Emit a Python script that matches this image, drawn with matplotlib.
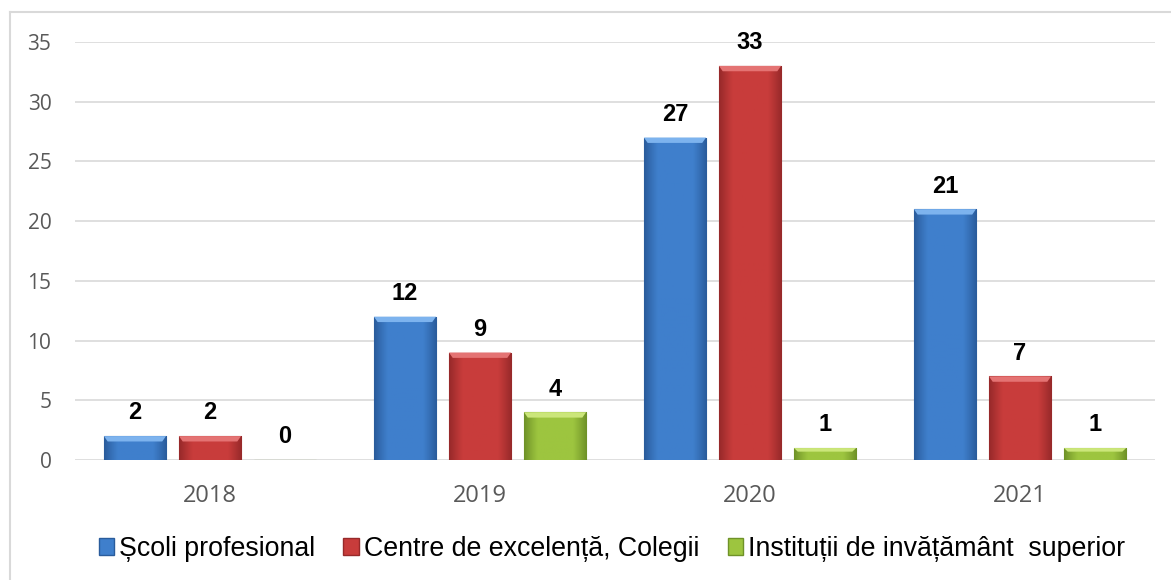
import matplotlib.pyplot as plt
import numpy as np
from matplotlib.colors import to_rgb
from matplotlib.lines import Line2D
from matplotlib.patches import Patch

years = ['2018', '2019', '2020', '2021']
scoli = [2, 12, 27, 21]
centre = [2, 9, 33, 7]
institutii = [0, 4, 1, 1]

series_names = ['Școli profesional', 'Centre de excelență, Colegii',
                'Instituții de invățământ  superior']
colors = ['#3F7FCC', '#C83C3B', '#9DC53F']
darks = ['#2A5C9C', '#97292A', '#6F9228']
lights = ['#7DB3EE', '#E47373', '#CBE67A']

fig = plt.figure(figsize=(11.71, 5.80), dpi=100)
ax = fig.add_axes([75 / 1171, 1 - 460 / 580, 1080 / 1171, 418 / 580])

# light frame (only left and top visible in the original)
fig.add_artist(Line2D([10 / 1171, 10 / 1171], [0, 1 - 12 / 580],
                      transform=fig.transFigure, color='#D9D9D9', lw=1.5))
fig.add_artist(Line2D([10 / 1171, 1], [1 - 12 / 580, 1 - 12 / 580],
                      transform=fig.transFigure, color='#D9D9D9', lw=1.5))

x = np.arange(len(years))
width = 0.23
offset = 0.278
all_series = [scoli, centre, institutii]

ax.set_xlim(-0.5, 3.5)
ax.set_ylim(0, 35)


def shaded(i):
    # horizontal gradient: darker at the sides, base colour in the middle
    t = np.linspace(0, 1, 64)
    w = np.clip(np.sin(np.pi * t) * 1.6, 0, 1)
    c0 = np.array(to_rgb(darks[i]))
    c1 = np.array(to_rgb(colors[i]))
    row = c0[None, :] * (1 - w[:, None]) + c1[None, :] * w[:, None]
    return row[None, :, :]


for i, vals in enumerate(all_series):
    pos = x + (i - 1) * offset
    bars = ax.bar(pos, vals, width, color=colors[i], edgecolor=darks[i],
                  linewidth=0.8, zorder=3)
    for b, v in zip(bars, vals):
        if v > 0:
            x0, x1 = b.get_x(), b.get_x() + b.get_width()
            im = ax.imshow(shaded(i), extent=[x0, x1, 0, v], aspect='auto',
                           zorder=3.5, interpolation='bilinear')
            im.set_clip_path(b)
            cap = min(0.45, v * 0.3)
            ax.fill([x0, x1, x1 - 0.014, x0 + 0.014], [v, v, v - cap, v - cap],
                    color=lights[i], zorder=4, lw=0)
        ax.annotate(str(v), (b.get_x() + b.get_width() / 2, v),
                    xytext=(0, 12), textcoords='offset points',
                    ha='center', va='baseline', fontsize=17,
                    fontweight='bold', family='Liberation Sans',
                    color='black', annotation_clip=False)

ax.set_xlim(-0.5, 3.5)
ax.set_ylim(0, 35)
ax.set_yticks(range(0, 36, 5))
ax.set_xticks(x)
ax.set_xticklabels(years)
ax.grid(axis='y', color='#D9D9D9', linewidth=1.2, zorder=0)
ax.set_axisbelow(True)
for s in ax.spines.values():
    s.set_visible(False)
ax.tick_params(axis='both', length=0, colors='#595959')
ax.tick_params(axis='y', pad=17, labelsize=15)
ax.tick_params(axis='x', pad=17.5, labelsize=17)
for lab in ax.get_xticklabels() + ax.get_yticklabels():
    lab.set_family('Open Sans')

handles = [Patch(facecolor=colors[i], edgecolor=darks[i]) for i in range(3)]
fig.legend(handles, series_names, loc='center',
           bbox_to_anchor=(612 / 1171, 1 - 549 / 580), ncol=3, frameon=False,
           handlelength=0.57, handleheight=0.64, handletextpad=0.2,
           columnspacing=1.05,
           prop={'family': 'Liberation Sans', 'size': 19.3})

fig.savefig('out.png', dpi=100)
